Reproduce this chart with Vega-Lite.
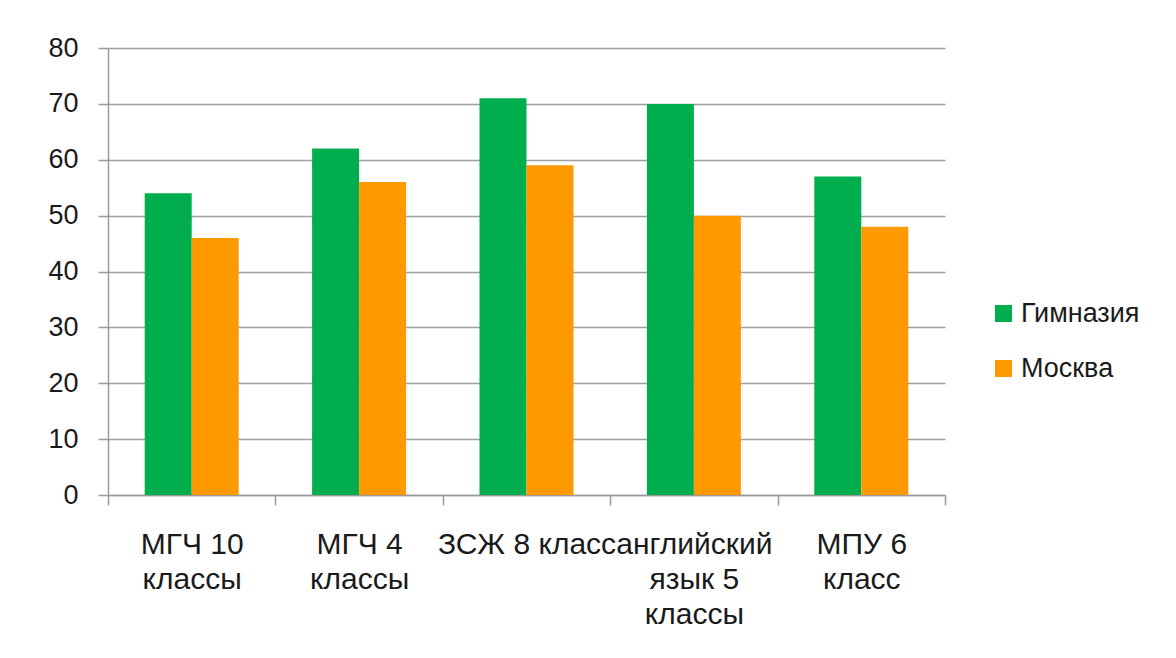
{
  "$schema": "https://vega.github.io/schema/vega-lite/v6.json",
  "autosize": {"type": "none"},
  "width": 837,
  "height": 447,
  "padding": {"left": 108, "top": 48, "right": 231, "bottom": 163},
  "background": "white",
  "data": {
    "values": [
      {"category": "МГЧ 10 классы", "series": "Гимназия", "value": 54},
      {"category": "МГЧ 10 классы", "series": "Москва", "value": 46},
      {"category": "МГЧ 4 классы", "series": "Гимназия", "value": 62},
      {"category": "МГЧ 4 классы", "series": "Москва", "value": 56},
      {"category": "ЗСЖ 8 класс", "series": "Гимназия", "value": 71},
      {"category": "ЗСЖ 8 класс", "series": "Москва", "value": 59},
      {"category": "английский язык 5 классы", "series": "Гимназия", "value": 70},
      {"category": "английский язык 5 классы", "series": "Москва", "value": 50},
      {"category": "МПУ 6 класс", "series": "Гимназия", "value": 57},
      {"category": "МПУ 6 класс", "series": "Москва", "value": 48}
    ]
  },
  "mark": {"type": "bar"},
  "encoding": {
    "x": {
      "field": "category",
      "type": "nominal",
      "sort": null,
      "scale": {"paddingInner": 0, "paddingOuter": 0},
      "axis": {
        "title": null,
        "labelAngle": 0,
        "labelFont": "Liberation Sans",
        "labelFontSize": 30,
        "labelLineHeight": 35,
        "labelColor": "#1a1a1a",
        "labelPadding": 24,
        "labelBaseline": "top",
        "tickBand": "extent",
        "tickSize": 10,
        "tickColor": "#9a9a9a",
        "tickWidth": 1.5,
        "domainColor": "#9a9a9a",
        "domainWidth": 1.5,
        "labelLimit": 0,
        "labelOverlap": false,
        "labelExpr": "datum.value == 'МГЧ 10 классы' ? ['МГЧ 10', 'классы'] : datum.value == 'МГЧ 4 классы' ? ['МГЧ 4', 'классы'] : datum.value == 'английский язык 5 классы' ? ['английский', 'язык 5', 'классы'] : datum.value == 'МПУ 6 класс' ? ['МПУ 6', 'класс'] : datum.value"
      }
    },
    "xOffset": {"field": "series", "type": "nominal", "scale": {"paddingInner": 0, "paddingOuter": 0.781}},
    "y": {
      "field": "value",
      "type": "quantitative",
      "scale": {"domain": [0, 80], "nice": false},
      "axis": {
        "title": null,
        "values": [0, 10, 20, 30, 40, 50, 60, 70, 80],
        "labelFont": "Liberation Sans",
        "labelFontSize": 27,
        "labelColor": "#1a1a1a",
        "labelPadding": 20,
        "tickSize": 10,
        "tickColor": "#9a9a9a",
        "tickWidth": 1.5,
        "domainColor": "#9a9a9a",
        "domainWidth": 1.5,
        "gridColor": "#a0a0a0",
        "gridWidth": 1.5
      }
    },
    "color": {
      "field": "series",
      "type": "nominal",
      "scale": {"domain": ["Гимназия", "Москва"], "range": ["#00AE4E", "#FF9900"]},
      "legend": {
        "title": null,
        "orient": "none",
        "legendX": 882,
        "legendY": 252,
        "padding": 0,
        "symbolType": "square",
        "symbolSize": 289,
        "symbolStrokeWidth": 0,
        "symbolOpacity": 1,
        "labelFont": "Liberation Sans",
        "labelFontSize": 27,
        "labelColor": "#1a1a1a",
        "labelOffset": 4,
        "rowPadding": 27
      }
    }
  },
  "config": {
    "view": {"stroke": null},
    "axis": {"gridOpacity": 1}
  }
}
